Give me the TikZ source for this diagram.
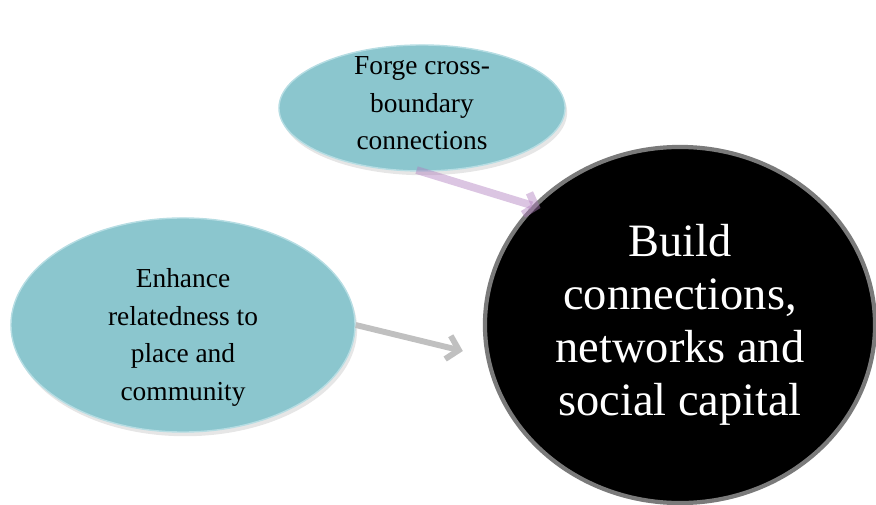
\documentclass[tikz,border=0pt]{standalone}
\usepackage{fontspec}
\setmainfont{Liberation Serif}
\usetikzlibrary{arrows.meta,shapes.geometric,shadows}
\definecolor{aqua}{RGB}{139,198,206}
\definecolor{aquaedge}{RGB}{182,221,227}
\definecolor{rim}{RGB}{122,122,122}
\definecolor{lilac}{RGB}{176,126,190}
\definecolor{ash}{RGB}{192,192,192}
\tikzset{
  idea/.style={ellipse, draw=aquaedge, line width=1pt, fill=aqua, align=center,
    inner xsep=0pt, inner ysep=-40pt,
    font=\fontsize{19.5}{26.6}\selectfont,
    drop shadow={shadow xshift=1.5pt, shadow yshift=-3pt, opacity=0.2}},
  goal/.style={ellipse, draw=rim, line width=3pt, fill=black, text=white, align=center,
    inner sep=0pt, font=\fontsize{33}{37.8}\selectfont},
  linkflow/.style={draw=lilac, line width=5.5pt, opacity=0.45,
    -{Straight Barb[length=7pt,width=16pt]}},
  plainflow/.style={draw=ash, line width=4.2pt,
    -{Straight Barb[length=8pt,width=17pt]}}
}
\begin{document}
\begin{tikzpicture}[x=0.025cm, y=-0.025cm]
  \useasboundingbox (0,0) rectangle (876,505);
  % ideas
  \node[idea, minimum width=7.15cm, minimum height=3.15cm, text depth=7pt] (forge) at (422,108)
    {Forge cross-\\boundary\\connections};
  \node[idea, minimum width=8.6cm, minimum height=5.35cm, text height=111pt] (relate) at (183,325)
    {Enhance\\relatedness to\\place and\\community};
  % goal
  \node[goal, minimum width=9.75cm, minimum height=8.9cm] (build) at (680,325)
    {Build\\connections,\\networks and\\social capital};
  % arrows
  \draw[plainflow] (relate.east) -- ([shift={(-20,26)}]build.west);
  \draw[linkflow, shorten <=-4pt, shorten >=-6pt] (forge.south) -- (build.141);
\end{tikzpicture}
\end{document}
